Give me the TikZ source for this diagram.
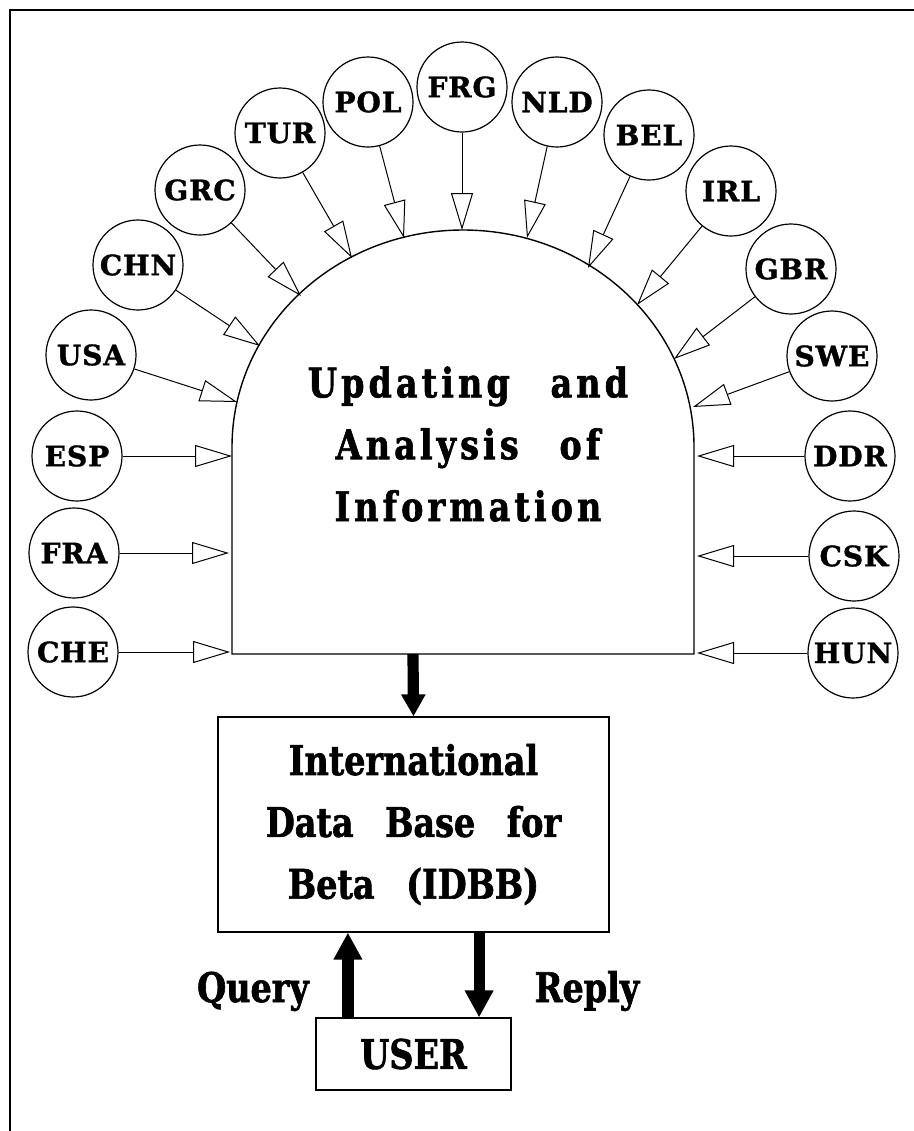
\documentclass[tikz,border=0pt]{standalone}
\usepackage{fontspec}
\setmainfont{DejaVu Serif}
\newfontfamily\cfont[LetterSpace=3, FakeBold=1.2]{DejaVu Serif}
\newfontfamily\mfont[FakeStretch=0.82, FakeBold=1.5]{DejaVu Serif}
\newfontfamily\dfont[FakeStretch=0.82, LetterSpace=10, FakeBold=1.5]{DejaVu Serif}
\usetikzlibrary{arrows.meta}

\begin{document}
\begin{tikzpicture}[x=0.25mm, y=-0.25mm, country/.style={circle, draw, line width=0.3mm, minimum size=22.5mm, inner sep=0pt, font=\cfont\bfseries\fontsize{20}{20}\selectfont}, feed/.style={line width=0.25mm, -{Triangle[open, length=9.25mm, width=5.5mm]}}, bigarrow/.style={line width=2.8mm, -{Triangle[length=6.75mm, width=6.75mm]}}, box/.style={draw, line width=0.3mm, rectangle, inner sep=0pt}, bigtext/.style={font=\mfont\bfseries\fontsize{29}{44}\selectfont, align=center}, dometext/.style={font=\dfont\bfseries\fontsize{29}{44}\selectfont, align=center}]

\useasboundingbox (0,0) rectangle (914,1131);
\draw[line width=0.5mm] (10,1131) -- (10,10) -- (914,10);

% the dome
\draw[line width=0.35mm] (232,654) -- (232,447) arc[start angle=180, end angle=0, x radius=57.75mm, y radius=54.25mm] -- (694,654) -- cycle;
\node[dometext] (update) at (468,444) {Updating\quad and\\Analysis\quad of\\Information};
\coordinate (domeout) at (413,654);

% countries
\node[country] (che) at (73,652) {CHE};
\node[country] (fra) at (74,553) {FRA};
\node[country] (esp) at (77,456) {ESP};
\node[country] (usa) at (91,355) {USA};
\node[country] (chn) at (138,265) {CHN};
\node[country] (grc) at (200,190) {GRC};
\node[country] (tur) at (280,133) {TUR};
\node[country] (pol) at (368,102) {POL};
\node[country] (frg) at (462,87) {FRG};
\node[country] (nld) at (557,102) {NLD};
\node[country] (bel) at (649,135) {BEL};
\node[country] (irl) at (731,191) {IRL};
\node[country] (gbr) at (791,269) {GBR};
\node[country] (swe) at (832,356) {SWE};
\node[country] (ddr) at (850,456) {DDR};
\node[country] (csk) at (854,556) {CSK};
\node[country] (hun) at (853,653) {HUN};

\coordinate (tche) at (230,652);
\coordinate (tfra) at (229,553);
\coordinate (tesp) at (232,456);
\coordinate (tusa) at (237,402);
\coordinate (tchn) at (260,346);
\coordinate (tgrc) at (301,296);
\coordinate (ttur) at (352,258);
\coordinate (tpol) at (404,238);
\coordinate (tfrg) at (462,230);
\coordinate (tnld) at (527,238);
\coordinate (tbel) at (588,268);
\coordinate (tirl) at (637,305);
\coordinate (tgbr) at (674,359);
\coordinate (tswe) at (693,407);
\coordinate (tddr) at (697,456);
\coordinate (tcsk) at (697,556);
\coordinate (thun) at (697,653);

\draw[feed] (che) -- (tche);
\draw[feed] (fra) -- (tfra);
\draw[feed] (esp) -- (tesp);
\draw[feed] (usa) -- (tusa);
\draw[feed] (chn) -- (tchn);
\draw[feed] (grc) -- (tgrc);
\draw[feed] (tur) -- (ttur);
\draw[feed] (pol) -- (tpol);
\draw[feed] (frg) -- (tfrg);
\draw[feed] (nld) -- (tnld);
\draw[feed] (bel) -- (tbel);
\draw[feed] (irl) -- (tirl);
\draw[feed] (gbr) -- (tgbr);
\draw[feed] (swe) -- (tswe);
\draw[feed] (ddr) -- (tddr);
\draw[feed] (csk) -- (tcsk);
\draw[feed] (hun) -- (thun);

% data base and user
\node[box, bigtext, minimum width=97.75mm, minimum height=53.75mm] (idbb) at (413.5,824.5) {International\\Data\hspace{5mm} Base\hspace{5mm} for\\Beta\hspace{5mm} (IDBB)};
\node[box, bigtext, minimum width=48.75mm, minimum height=18mm] (user) at (413.5,1054) {USER};
\node[bigtext, anchor=base] (query) at (253,1002) {Query};
\node[bigtext, anchor=base] (reply) at (587,1002) {Reply};

\draw[bigarrow, -{Triangle[length=5.5mm, width=5.75mm]}] (domeout) -- (idbb.north);
\draw[bigarrow] ([xshift=-16.4mm]user.north) -- ([xshift=-16.4mm]user.north |- idbb.south);
\draw[bigarrow] ([xshift=16.4mm]idbb.south) -- ([xshift=16.4mm]idbb.south |- user.north);

\end{tikzpicture}
\end{document}
